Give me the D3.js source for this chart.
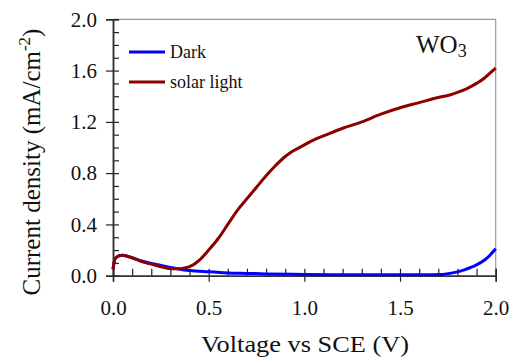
<!DOCTYPE html>
<html>
<head>
<meta charset="utf-8">
<script src="https://cdn.jsdelivr.net/npm/d3@7"></script>
<style>
  body { margin: 0; background: #fff; }
</style>
</head>
<body>
<div id="chart"></div>
<script>
// dark current (V vs SCE, mA/cm^2)
const darkV = [0.0, 0.01, 0.03, 0.05, 0.1, 0.15, 0.2, 0.25, 0.3, 0.35, 0.4, 0.5, 0.6, 0.7, 0.8, 1.0, 1.2, 1.4, 1.6, 1.72, 1.76, 1.8, 1.84, 1.87, 1.9, 1.94, 1.97, 2.0];
const darkJ = [0.05, 0.13, 0.155, 0.16, 0.14, 0.115, 0.095, 0.08, 0.065, 0.05, 0.04, 0.03, 0.022, 0.018, 0.014, 0.01, 0.008, 0.008, 0.008, 0.01, 0.018, 0.03, 0.048, 0.065, 0.085, 0.12, 0.16, 0.21];

// solar light
const lightV = [0.0, 0.01, 0.03, 0.05, 0.1, 0.15, 0.2, 0.25, 0.3, 0.35, 0.4, 0.45, 0.5, 0.55, 0.6, 0.65, 0.7, 0.75, 0.8, 0.85, 0.9, 0.95, 1.0, 1.05, 1.1, 1.2, 1.3, 1.4, 1.5, 1.6, 1.7, 1.76, 1.8, 1.85, 1.9, 1.94, 1.97, 2.0];
const lightJ = [0.05, 0.13, 0.155, 0.16, 0.14, 0.11, 0.09, 0.07, 0.055, 0.055, 0.07, 0.12, 0.2, 0.29, 0.4, 0.51, 0.6, 0.69, 0.78, 0.86, 0.93, 0.98, 1.02, 1.06, 1.09, 1.15, 1.2, 1.26, 1.31, 1.35, 1.39, 1.41, 1.43, 1.46, 1.5, 1.54, 1.58, 1.62];

const xTicks = [0, 0.5, 1.0, 1.5, 2.0];
const yTicks = [0, 0.4, 0.8, 1.2, 1.6, 2.0];

const W = 511, H = 358;
const margin = { top: 19.3, right: 15.3, bottom: 82.3, left: 113 };
const width = W - margin.left - margin.right;
const height = H - margin.top - margin.bottom;

const svg = d3.select('#chart').append('svg')
  .attr('width', W).attr('height', H)
  .attr('font-family', 'Liberation Serif');
const g = svg.append('g')
  .attr('transform', `translate(${margin.left},${margin.top})`);

const x = d3.scaleLinear().domain([0, 2]).range([0, width]);
const y = d3.scaleLinear().domain([0, 2]).range([height, 0]);

// frame top & right
g.append('line').attr('x1', 0).attr('x2', width).attr('y1', 0).attr('y2', 0)
  .attr('stroke', '#999').attr('stroke-width', 1.2);
g.append('line').attr('x1', width).attr('x2', width).attr('y1', 0).attr('y2', height)
  .attr('stroke', '#999').attr('stroke-width', 1.2);

const minor = d3.range(0, 2.0001, 0.1);

// y axis
const yMinor = g.append('g')
  .call(d3.axisLeft(y).tickValues(minor).tickSize(-6).tickFormat(''));
const yMajor = g.append('g')
  .call(d3.axisLeft(y).tickValues(yTicks).tickSize(7).tickPadding(9).tickFormat(d3.format('.1f')));

// x axis
const xMinor = g.append('g').attr('transform', `translate(0,${height})`)
  .call(d3.axisBottom(x).tickValues(minor).tickSize(-7).tickFormat(''));
const xMajor = g.append('g').attr('transform', `translate(0,${height})`)
  .call(d3.axisBottom(x).tickValues(xTicks).tickSize(6).tickPadding(18).tickFormat(d3.format('.1f')));

[yMinor, yMajor, xMinor, xMajor].forEach(a => {
  a.attr('font-family', 'Liberation Serif').attr('font-size', 21);
  a.selectAll('.domain').attr('stroke', '#333').attr('stroke-width', 1.5);
  a.selectAll('.tick line').attr('stroke', '#222').attr('stroke-width', 1.2);
  a.selectAll('text').attr('fill', '#111');
});

// lines
const line = d3.line()
  .x(d => x(d[0]))
  .y(d => y(d[1]))
  .curve(d3.curveMonotoneX);

g.append('path')
  .datum(darkV.map((v, i) => [v, darkJ[i]]))
  .attr('d', line)
  .attr('fill', 'none').attr('stroke', '#0000ff').attr('stroke-width', 3);

g.append('path')
  .datum(lightV.map((v, i) => [v, lightJ[i]]))
  .attr('d', line)
  .attr('fill', 'none').attr('stroke', '#8b0000').attr('stroke-width', 3);

// legend
const legend = [['Dark', '#0000ff'], ['solar light', '#8b0000']];
legend.forEach((d, i) => {
  const ly = 52 + i * 30 - margin.top;
  g.append('line').attr('x1', 129 - margin.left).attr('x2', 165 - margin.left)
    .attr('y1', ly).attr('y2', ly)
    .attr('stroke', d[1]).attr('stroke-width', 3);
  g.append('text').attr('x', 170 - margin.left).attr('y', ly + 6)
    .attr('font-size', 18).attr('fill', '#111').text(d[0]);
});

// WO3 label
const wo = svg.append('text').attr('x', 416).attr('y', 53)
  .attr('font-size', 25).attr('fill', '#111');
wo.append('tspan').text('WO');
wo.append('tspan').attr('dy', 4).attr('font-size', 18).text('3');

// axis titles
svg.append('text')
  .attr('x', 305).attr('y', 352)
  .attr('text-anchor', 'middle')
  .attr('textLength', 208).attr('lengthAdjust', 'spacingAndGlyphs')
  .attr('font-size', 24).attr('fill', '#111')
  .text('Voltage vs SCE (V)');

const yt = svg.append('text')
  .attr('transform', 'translate(40,162) rotate(-90)')
  .attr('text-anchor', 'middle')
  .attr('font-size', 25).attr('fill', '#111');
yt.append('tspan').text('Current density (mA/cm');
yt.append('tspan').attr('dy', -10).attr('font-size', 17).text('-2');
yt.append('tspan').attr('dy', 10).text(')');
</script>
</body>
</html>
